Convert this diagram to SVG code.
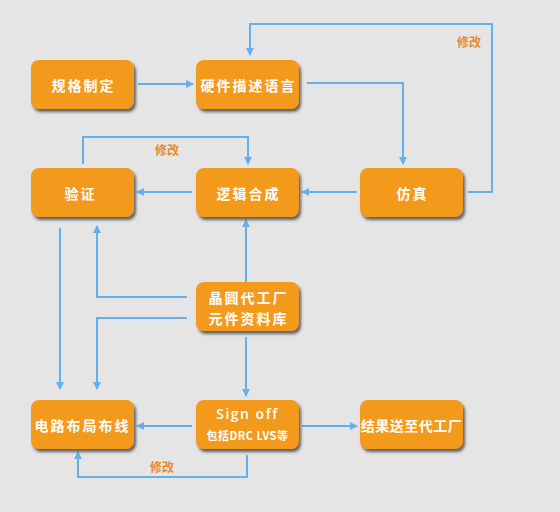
<svg xmlns="http://www.w3.org/2000/svg" width="560" height="512" viewBox="0 0 560 512">
<defs>
<filter id="sh" x="-10%" y="-10%" width="125%" height="135%">
<feDropShadow dx="2" dy="3" stdDeviation="1.5" flood-color="#333" flood-opacity="0.75"/>
</filter>
<marker id="ah" markerWidth="8" markerHeight="8" refX="7" refY="4" orient="auto" markerUnits="userSpaceOnUse">
<path d="M0,0 L8,4 L0,8 Z" fill="#64b0ec"/>
</marker>
<style>
.n rect{fill:#f39a1e;filter:url(#sh)}
.n text{fill:#fff;font-family:"Noto Sans CJK SC","Noto Sans",sans-serif;font-weight:bold;font-size:14px;letter-spacing:2px;text-anchor:middle;dominant-baseline:central}
.c path{fill:none;stroke:#64b0ec;stroke-width:2}
.l{fill:#e8892a;font-family:"Noto Sans CJK SC",sans-serif;font-weight:bold;font-size:12px;text-anchor:middle;dominant-baseline:central}
</style>
</defs>
<rect width="560" height="512" fill="#e5e5e5"/>
<g class="c">
<path d="M138,84 H193" marker-end="url(#ah)"/>
<path d="M307,83 H403 V164" marker-end="url(#ah)"/>
<path d="M468,192 H492 V24 H250 V55" marker-end="url(#ah)"/>
<path d="M357,192 H302" marker-end="url(#ah)"/>
<path d="M192,192 H137" marker-end="url(#ah)"/>
<path d="M83,164 V137 H248 V164" marker-end="url(#ah)"/>
<path d="M60,228 V389" marker-end="url(#ah)"/>
<path d="M187,297 H97 V226" marker-end="url(#ah)"/>
<path d="M187,318 H97 V389" marker-end="url(#ah)"/>
<path d="M246,282 V220" marker-end="url(#ah)"/>
<path d="M246,337 V396" marker-end="url(#ah)"/>
<path d="M192,426 H137" marker-end="url(#ah)"/>
<path d="M302,426 H357" marker-end="url(#ah)"/>
<path d="M247,455 V477 H78 V452" marker-end="url(#ah)"/>
</g>
<text class="l" x="469" y="41">修改</text>
<text class="l" x="167" y="149">修改</text>
<text class="l" x="162" y="466">修改</text>
<g id="spec" class="n"><rect x="31" y="60" width="103" height="49" rx="8"/><text x="83.5" y="84.5">规格制定</text></g>
<g id="hdl" class="n"><rect x="196" y="60" width="103" height="49" rx="8"/><text x="248.5" y="84.5">硬件描述语言</text></g>
<g id="verify" class="n"><rect x="31" y="168" width="103" height="49" rx="8"/><text x="80.5" y="192.5">验证</text></g>
<g id="synth" class="n"><rect x="196" y="168" width="103" height="49" rx="8"/><text x="248.5" y="192.5">逻辑合成</text></g>
<g id="sim" class="n"><rect x="360" y="168" width="103" height="49" rx="8"/><text x="412.5" y="192.5">仿真</text></g>
<g id="lib" class="n"><rect x="196" y="282" width="103" height="49" rx="8"/><text x="248.5" y="297">晶圆代工厂</text><text x="248.5" y="318">元件资料库</text></g>
<g id="pr" class="n"><rect x="31" y="400" width="103" height="49" rx="8"/><text x="82.5" y="424.5">电路布局布线</text></g>
<g id="signoff" class="n"><rect x="196" y="400" width="103" height="49" rx="8"/><text x="247.5" y="413" style="font-family:'Open Sans','Noto Sans',sans-serif;font-weight:600;font-size:14px;letter-spacing:1.5px">Sign off</text><text x="247.5" y="435" style="font-size:11px;letter-spacing:0.5px">包括DRC LVS等</text></g>
<g id="fab" class="n"><rect x="360" y="400" width="103" height="49" rx="8"/><text x="411.5" y="424.5" style="letter-spacing:0.5px">结果送至代工厂</text></g>
</svg>
